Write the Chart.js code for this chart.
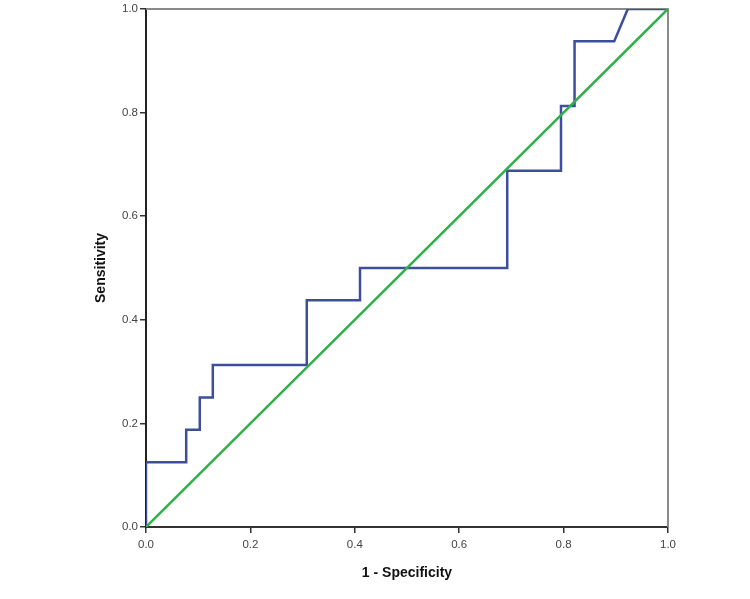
<!DOCTYPE html>
<html lang="en">
<head>
  <meta charset="UTF-8">
  <title>ROC Curve</title>
  <script src="https://cdn.jsdelivr.net/npm/chart.js"></script>
  <style>
    body {
      margin: 0;
      background: #fff;
    }
    #wrap {
      width: 750px;
      height: 599px;
    }
  </style>
</head>
<body>
  <div id="wrap"><canvas id="roc" width="750" height="599"></canvas></div>

  <script>
    // ROC step points (1 - specificity, sensitivity)
    const rocX = [0, 0, 0.077, 0.077, 0.103, 0.103, 0.128, 0.128, 0.308, 0.308, 0.410, 0.410, 0.692, 0.692, 0.795, 0.795, 0.821, 0.821, 0.897, 0.923, 1.0];
    const rocY = [0, 0.125, 0.125, 0.1875, 0.1875, 0.25, 0.25, 0.3125, 0.3125, 0.4375, 0.4375, 0.5, 0.5, 0.6875, 0.6875, 0.8125, 0.8125, 0.9375, 0.9375, 1.0, 1.0];
    // reference line
    const refX = [0, 1];
    const refY = [0, 1];
    const tickVals = [0, 0.2, 0.4, 0.6, 0.8, 1.0];

    const toPoints = (xs, ys) => xs.map((x, i) => ({ x: x, y: ys[i] }));

    // grey frame on top and right sides
    const framePlugin = {
      id: 'frame',
      beforeDatasetsDraw(chart) {
        const { ctx, chartArea: a } = chart;
        ctx.save();
        ctx.strokeStyle = '#8a8a8a';
        ctx.lineWidth = 2;
        ctx.beginPath();
        ctx.moveTo(a.left, a.top);
        ctx.lineTo(a.right, a.top);
        ctx.lineTo(a.right, a.bottom);
        ctx.stroke();
        ctx.restore();
      }
    };

    const tickFont = { family: 'Arial, "Liberation Sans", sans-serif', size: 11.5 };
    const titleFont = { family: 'Arial, "Liberation Sans", sans-serif', size: 14, weight: 'bold' };

    new Chart(document.getElementById('roc').getContext('2d'), {
      type: 'scatter',
      data: {
        datasets: [
          {
            label: 'Reference',
            data: toPoints(refX, refY),
            showLine: true,
            borderColor: '#2fb04a',
            borderWidth: 2.5,
            pointRadius: 0,
            order: 1
          },
          {
            label: 'ROC',
            data: toPoints(rocX, rocY),
            showLine: true,
            borderColor: '#3d4f9a',
            borderWidth: 2.5,
            pointRadius: 0,
            order: 2
          }
        ]
      },
      options: {
        responsive: false,
        animation: false,
        layout: { padding: { left: 0, right: 82, top: 6, bottom: 0 } },
        plugins: { legend: { display: false }, tooltip: { enabled: false } },
        scales: {
          x: {
            type: 'linear',
            min: 0,
            max: 1,
            afterFit: s => { s.height = 72; },
            afterBuildTicks: s => { s.ticks = tickVals.map(v => ({ value: v })); },
            ticks: { color: '#444', font: tickFont, padding: 5, callback: v => v.toFixed(1) },
            grid: { drawOnChartArea: false, tickLength: 6, color: '#333', lineWidth: 1.5 },
            border: { color: '#333', width: 2 },
            title: { display: true, text: '1 - Specificity', color: '#111', font: titleFont, padding: { top: 0, bottom: 17 } }
          },
          y: {
            type: 'linear',
            min: 0,
            max: 1,
            afterFit: s => { s.width = 146; },
            afterBuildTicks: s => { s.ticks = tickVals.map(v => ({ value: v })); },
            ticks: { color: '#444', font: tickFont, padding: 2, callback: v => v.toFixed(1) },
            grid: { drawOnChartArea: false, tickLength: 6, color: '#333', lineWidth: 1.5 },
            border: { color: '#222', width: 2 },
            title: { display: true, text: 'Sensitivity', color: '#111', font: titleFont, padding: { top: 93, bottom: 0 } }
          }
        }
      },
      plugins: [framePlugin]
    });
  </script>
</body>
</html>
